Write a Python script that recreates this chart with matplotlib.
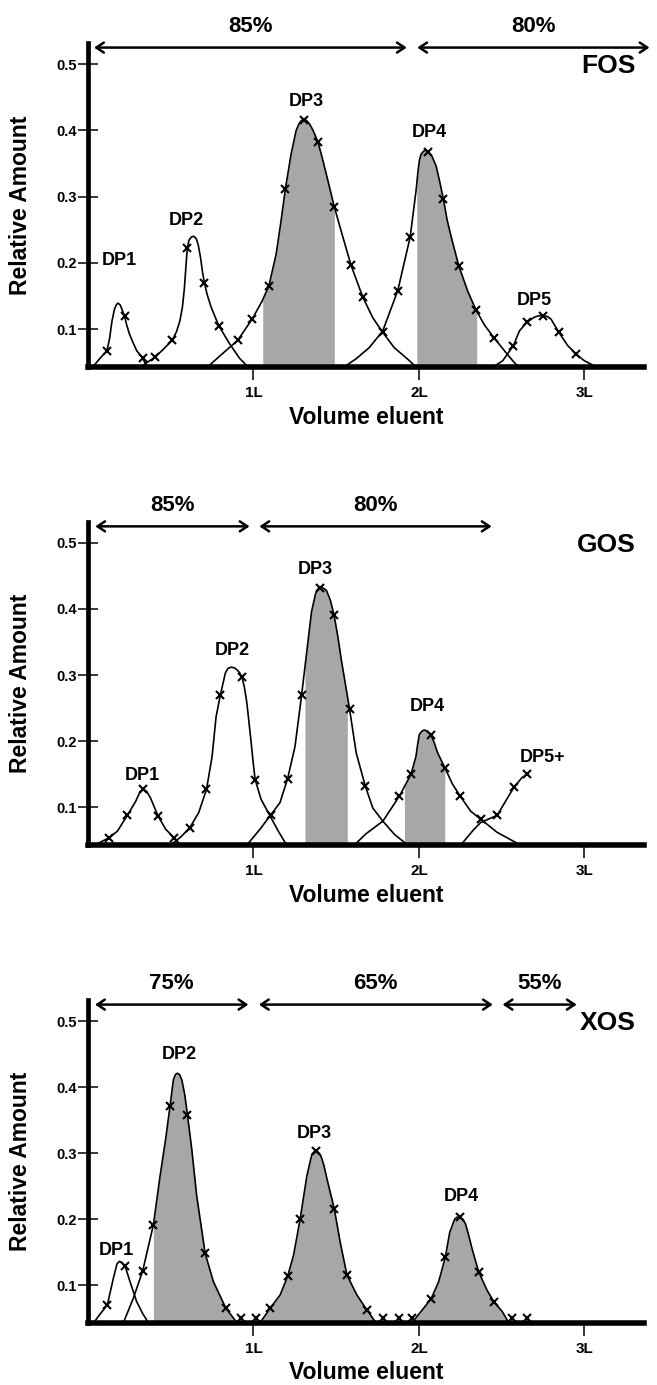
import numpy as np
import matplotlib
matplotlib.use('Agg')
import matplotlib.pyplot as plt
from matplotlib.patches import FancyArrowPatch

# ---- FOS ----
fos_dp1_x = [0.03, 0.07, 0.114, 0.13, 0.145, 0.16, 0.172, 0.182, 0.195, 0.208, 0.221, 0.235, 0.251, 0.271, 0.295, 0.331, 0.355]
fos_dp1_y = [0.043, 0.055, 0.067, 0.085, 0.112, 0.130, 0.137, 0.139, 0.136, 0.128, 0.119, 0.105, 0.092, 0.080, 0.067, 0.056, 0.043]
fos_dp2_x = [0.32, 0.36, 0.402, 0.45, 0.509, 0.535, 0.555, 0.570, 0.582, 0.592, 0.600, 0.610, 0.625, 0.640, 0.655, 0.667,
             0.680, 0.692, 0.704, 0.72, 0.744, 0.790, 0.855, 0.915, 0.966]
fos_dp2_y = [0.043, 0.050, 0.057, 0.068, 0.083, 0.096, 0.112, 0.132, 0.160, 0.195, 0.222, 0.234, 0.239, 0.240, 0.236, 0.226,
             0.208, 0.186, 0.169, 0.152, 0.133, 0.105, 0.078, 0.056, 0.043]
fos_dp3_x = [0.724, 0.80, 0.905, 0.992, 1.052, 1.093, 1.137, 1.167, 1.193, 1.228, 1.258, 1.275, 1.290, 1.305, 1.320, 1.338,
             1.36, 1.389, 1.414, 1.439, 1.489, 1.540, 1.590, 1.640, 1.661, 1.721, 1.781, 1.85, 1.943, 1.98]
fos_dp3_y = [0.043, 0.060, 0.083, 0.115, 0.142, 0.165, 0.213, 0.264, 0.312, 0.365, 0.400, 0.410, 0.415, 0.416, 0.415, 0.410,
             0.400, 0.383, 0.360, 0.335, 0.284, 0.239, 0.196, 0.162, 0.148, 0.117, 0.095, 0.072, 0.052, 0.043]
fos_dp4_x = [1.55, 1.62, 1.70, 1.781, 1.872, 1.947, 1.983, 1.995, 2.003, 2.013, 2.030, 2.045, 2.057, 2.08, 2.104, 2.125,
             2.148, 2.17, 2.195, 2.241, 2.295, 2.346, 2.396, 2.456, 2.527, 2.567, 2.60]
fos_dp4_y = [0.043, 0.055, 0.072, 0.097, 0.158, 0.239, 0.310, 0.340, 0.355, 0.364, 0.369, 0.370, 0.368, 0.360, 0.346, 0.323,
             0.296, 0.265, 0.239, 0.195, 0.157, 0.128, 0.106, 0.086, 0.064, 0.052, 0.043]
fos_dp5_x = [2.45, 2.506, 2.571, 2.607, 2.652, 2.698, 2.725, 2.748, 2.775, 2.798, 2.845, 2.899, 2.950, 3.0, 3.07]
fos_dp5_y = [0.043, 0.052, 0.075, 0.097, 0.110, 0.118, 0.120, 0.120, 0.119, 0.115, 0.095, 0.075, 0.062, 0.052, 0.043]
fos_mark_x = [0.114, 0.221, 0.331, 0.402, 0.509, 0.600, 0.704, 0.790, 0.905, 0.992, 1.093, 1.193, 1.305, 1.389, 1.489,
              1.590, 1.661, 1.781, 1.872, 1.947, 2.057, 2.148, 2.241, 2.346, 2.456, 2.571, 2.652, 2.748, 2.845, 2.950]
fos_mark_y = [0.067, 0.119, 0.056, 0.057, 0.083, 0.222, 0.169, 0.105, 0.083, 0.115, 0.165, 0.312, 0.416, 0.383, 0.284,
              0.196, 0.148, 0.095, 0.158, 0.239, 0.368, 0.296, 0.195, 0.128, 0.086, 0.075, 0.110, 0.120, 0.095, 0.062]
fos_shade_peak = ['DP3', 'DP4']
fos_shade_from = [1.056, 1.987]
fos_shade_to = [1.489, 2.349]
fos_pct = ['85%', '80%']
fos_pct_from = [0.02, 1.973]
fos_pct_to = [1.943, 3.41]

# ---- GOS ----
gos_dp1_x = [0.03, 0.048, 0.128, 0.178, 0.238, 0.288, 0.31, 0.334, 0.355, 0.378, 0.423, 0.469, 0.519, 0.559]
gos_dp1_y = [0.043, 0.044, 0.054, 0.064, 0.088, 0.109, 0.121, 0.127, 0.124, 0.114, 0.087, 0.067, 0.054, 0.043]
gos_dp2_x = [0.499, 0.56, 0.615, 0.669, 0.716, 0.750, 0.774, 0.800, 0.830, 0.845, 0.866, 0.885, 0.900, 0.915, 0.930,
             0.945, 0.960, 0.973, 0.986, 0.998, 1.010, 1.046, 1.100, 1.150, 1.200]
gos_dp2_y = [0.043, 0.055, 0.069, 0.092, 0.127, 0.177, 0.237, 0.270, 0.303, 0.310, 0.312, 0.311, 0.308, 0.304, 0.297,
             0.282, 0.258, 0.228, 0.198, 0.168, 0.142, 0.112, 0.087, 0.064, 0.043]
gos_dp3_x = [0.960, 1.040, 1.106, 1.160, 1.206, 1.251, 1.291, 1.321, 1.351, 1.375, 1.388, 1.401, 1.42, 1.441, 1.465,
             1.487, 1.51, 1.531, 1.581, 1.621, 1.676, 1.721, 1.782, 1.852, 1.932]
gos_dp3_y = [0.043, 0.067, 0.089, 0.107, 0.143, 0.192, 0.270, 0.333, 0.396, 0.423, 0.430, 0.432, 0.432, 0.428, 0.413,
             0.391, 0.358, 0.323, 0.248, 0.182, 0.132, 0.099, 0.079, 0.059, 0.043]
gos_dp4_x = [1.61, 1.68, 1.782, 1.882, 1.952, 1.982, 1.992, 2.002, 2.017, 2.032, 2.052, 2.072, 2.092, 2.112, 2.156,
             2.203, 2.249, 2.313, 2.373, 2.473, 2.613]
gos_dp4_y = [0.043, 0.060, 0.079, 0.117, 0.150, 0.177, 0.195, 0.210, 0.215, 0.217, 0.215, 0.210, 0.198, 0.183, 0.160,
             0.135, 0.117, 0.094, 0.082, 0.062, 0.043]
gos_dp5_x = [2.253, 2.33, 2.373, 2.473, 2.573, 2.623, 2.653]
gos_dp5_y = [0.043, 0.066, 0.077, 0.088, 0.130, 0.145, 0.150]
gos_mark_x = [0.128, 0.238, 0.334, 0.423, 0.519, 0.615, 0.716, 0.800, 0.930, 1.010, 1.106, 1.206, 1.291, 1.401, 1.487,
              1.581, 1.676, 1.882, 1.952, 2.072, 2.156, 2.249, 2.373, 2.473, 2.573, 2.653]
gos_mark_y = [0.054, 0.088, 0.127, 0.087, 0.054, 0.069, 0.127, 0.270, 0.297, 0.142, 0.089, 0.143, 0.270, 0.432, 0.391,
              0.248, 0.132, 0.117, 0.150, 0.210, 0.160, 0.117, 0.082, 0.088, 0.130, 0.150]
gos_shade_peak = ['DP3', 'DP4']
gos_shade_from = [1.311, 1.912]
gos_shade_to = [1.567, 2.156]
gos_pct = ['85%', '80%']
gos_pct_from = [0.027, 1.019]
gos_pct_to = [0.993, 2.456]

# ---- XOS ----
xos_dp1_x = [0.035, 0.07, 0.117, 0.153, 0.175, 0.190, 0.205, 0.224, 0.254, 0.294, 0.33, 0.365]
xos_dp1_y = [0.043, 0.055, 0.070, 0.110, 0.132, 0.136, 0.134, 0.129, 0.105, 0.075, 0.057, 0.043]
xos_dp2_x = [0.214, 0.274, 0.331, 0.395, 0.436, 0.472, 0.496, 0.516, 0.528, 0.540, 0.553, 0.567, 0.585, 0.601, 0.627,
             0.657, 0.708, 0.758, 0.833, 0.879, 0.899]
xos_dp2_y = [0.043, 0.080, 0.122, 0.191, 0.266, 0.326, 0.372, 0.411, 0.419, 0.421, 0.419, 0.411, 0.388, 0.358, 0.306,
             0.235, 0.148, 0.105, 0.065, 0.050, 0.043]
xos_dp3_x = [1.04, 1.101, 1.161, 1.206, 1.242, 1.282, 1.323, 1.353, 1.366, 1.379, 1.393, 1.407, 1.425, 1.444, 1.488,
             1.524, 1.565, 1.625, 1.686, 1.74]
xos_dp3_y = [0.043, 0.065, 0.085, 0.113, 0.145, 0.200, 0.266, 0.298, 0.302, 0.303, 0.301, 0.296, 0.282, 0.261, 0.216,
             0.165, 0.115, 0.085, 0.062, 0.043]
xos_dp4_x = [1.958, 2.019, 2.073, 2.119, 2.160, 2.186, 2.216, 2.231, 2.246, 2.263, 2.281, 2.30, 2.321, 2.361, 2.412,
             2.452, 2.503, 2.543]
xos_dp4_y = [0.043, 0.062, 0.079, 0.105, 0.143, 0.180, 0.200, 0.203, 0.203, 0.200, 0.193, 0.176, 0.155, 0.120, 0.092,
             0.075, 0.060, 0.043]
xos_mark_x = [0.117, 0.224, 0.331, 0.395, 0.496, 0.601, 0.708, 0.833, 0.925, 1.014, 1.101, 1.206, 1.282, 1.379, 1.488,
              1.565, 1.686, 1.783, 1.877, 1.958, 2.073, 2.160, 2.246, 2.361, 2.452, 2.563, 2.654]
xos_mark_y = [0.070, 0.129, 0.122, 0.191, 0.372, 0.358, 0.148, 0.065, 0.050, 0.050, 0.065, 0.113, 0.200, 0.303, 0.216,
              0.115, 0.062, 0.050, 0.050, 0.050, 0.079, 0.143, 0.203, 0.120, 0.075, 0.050, 0.050]
xos_shade_peak = ['DP2', 'DP3', 'DP4']
xos_shade_from = [0.395, 1.04, 1.958]
xos_shade_to = [0.899, 1.74, 2.543]
xos_pct = ['75%', '65%', '55%']
xos_pct_from = [0.026, 1.016, 2.489]
xos_pct_to = [0.986, 2.463, 2.97]

y_ticks = [0.1, 0.2, 0.3, 0.4, 0.5]
x_ticks = [1, 2, 3]
x_tick_labels = ['1L', '2L', '3L']

plt.rcParams['font.family'] = ['Liberation Sans', 'DejaVu Sans']
plt.rcParams['font.weight'] = 'bold'

YMIN, YMAX = 0.043, 0.532
SHADE = '#a7a7a7'


def draw_panel(ax, curves, names, label_pos, shade_peak, shade_from, shade_to, mark_x, mark_y,
               pct, pct_from, pct_to, pct_y, tag):
    for name in names:
        x, y = curves[name]
        ax.plot(x, y, color='black', lw=1.2, zorder=3, solid_joinstyle='round')
    for name, lo, hi in zip(shade_peak, shade_from, shade_to):
        x, y = np.asarray(curves[name][0]), np.asarray(curves[name][1])
        inside = (x > lo) & (x < hi)
        xs = np.concatenate([[lo], x[inside], [hi]])
        ys = np.interp(xs, x, y)
        ax.fill_between(xs, ys, YMIN, color=SHADE, lw=0, zorder=1)
    ax.plot(mark_x, mark_y, ls='none', marker='x', ms=6, mew=1.5, color='black', zorder=4)

    for name, (lx, ly) in zip(names, label_pos):
        ax.text(lx, ly, name, ha='center', va='center', fontsize=13, fontweight='bold')

    for text, a, b in zip(pct, pct_from, pct_to):
        arr = FancyArrowPatch((a, 0.525), (b, 0.525), arrowstyle='<->,head_length=0.45,head_width=0.3',
                              mutation_scale=12, lw=1.8, color='black', clip_on=False, zorder=5)
        ax.add_patch(arr)
        ax.text((a + b) / 2, pct_y, text, ha='center', va='center', fontsize=16, fontweight='bold', clip_on=False)

    ax.text(3.31, 0.497, tag, ha='right', va='center', fontsize=19, fontweight='bold')

    ax.set_xlim(0, 3.36)
    ax.set_ylim(YMIN, YMAX)
    for s in ['top', 'right']:
        ax.spines[s].set_visible(False)
    ax.spines['left'].set_linewidth(3.4)
    ax.spines['bottom'].set_linewidth(4.0)
    ax.set_yticks(y_ticks)
    ax.set_yticklabels([f'{v:.1f}' for v in y_ticks])
    ax.set_xticks(x_ticks)
    ax.set_xticklabels(x_tick_labels)
    ax.tick_params(axis='y', direction='inout', length=14, width=1.1, labelsize=10.5, pad=1)
    ax.tick_params(axis='x', direction='out', length=9, width=1.1, labelsize=11, pad=5)
    for lab in ax.get_xticklabels() + ax.get_yticklabels():
        lab.set_fontweight('bold')
    ax.set_xlabel('Volume eluent', fontsize=16.5, fontweight='bold')
    ax.set_ylabel('Relative Amount', fontsize=16.5, fontweight='bold')
    ax.xaxis.set_label_coords(0.5, -0.12)
    ax.yaxis.set_label_coords(-0.10, 0.5)


fig = plt.figure(figsize=(6.57, 13.85), dpi=100)
left, width = 88 / 657, 556 / 657

ax1 = fig.add_axes([left, 0.7352, width, 0.2338])
ax2 = fig.add_axes([left, 0.3899, width, 0.2334])
ax3 = fig.add_axes([left, 0.0450, width, 0.2330])

draw_panel(ax1,
           {'DP1': (fos_dp1_x, fos_dp1_y), 'DP2': (fos_dp2_x, fos_dp2_y), 'DP3': (fos_dp3_x, fos_dp3_y),
            'DP4': (fos_dp4_x, fos_dp4_y), 'DP5': (fos_dp5_x, fos_dp5_y)},
           ['DP1', 'DP2', 'DP3', 'DP4', 'DP5'],
           [(0.19, 0.203), (0.597, 0.264), (1.322, 0.443), (2.063, 0.396), (2.698, 0.143)],
           fos_shade_peak, fos_shade_from, fos_shade_to, fos_mark_x, fos_mark_y,
           fos_pct, fos_pct_from, fos_pct_to, 0.557, 'FOS')

draw_panel(ax2,
           {'DP1': (gos_dp1_x, gos_dp1_y), 'DP2': (gos_dp2_x, gos_dp2_y), 'DP3': (gos_dp3_x, gos_dp3_y),
            'DP4': (gos_dp4_x, gos_dp4_y), 'DP5+': (gos_dp5_x, gos_dp5_y)},
           ['DP1', 'DP2', 'DP3', 'DP4', 'DP5+'],
           [(0.328, 0.148), (0.874, 0.337), (1.375, 0.460), (2.052, 0.253), (2.75, 0.176)],
           gos_shade_peak, gos_shade_from, gos_shade_to, gos_mark_x, gos_mark_y,
           gos_pct, gos_pct_from, gos_pct_to, 0.557, 'GOS')

draw_panel(ax3,
           {'DP1': (xos_dp1_x, xos_dp1_y), 'DP2': (xos_dp2_x, xos_dp2_y), 'DP3': (xos_dp3_x, xos_dp3_y),
            'DP4': (xos_dp4_x, xos_dp4_y)},
           ['DP1', 'DP2', 'DP3', 'DP4'],
           [(0.173, 0.153), (0.551, 0.449), (1.367, 0.330), (2.257, 0.234)],
           xos_shade_peak, xos_shade_from, xos_shade_to, xos_mark_x, xos_mark_y,
           xos_pct, xos_pct_from, xos_pct_to, 0.557, 'XOS')

fig.savefig('out.png', dpi=100)
